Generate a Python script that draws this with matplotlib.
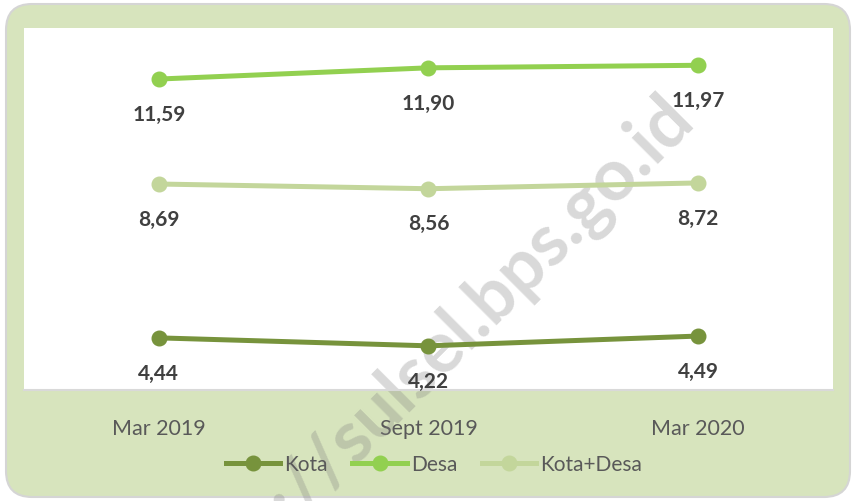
import matplotlib
matplotlib.use("Agg")
import matplotlib.pyplot as plt
from matplotlib.patches import FancyBboxPatch
from matplotlib.transforms import IdentityTransform
from matplotlib.lines import Line2D

categories = ["Mar 2019", "Sept 2019", "Mar 2020"]
kota = [4.44, 4.22, 4.49]
desa = [11.59, 11.90, 11.97]
kota_desa = [8.69, 8.56, 8.72]
series_names = ["Kota", "Desa", "Kota+Desa"]
colors = ["#77933c", "#92d050", "#c3d69b"]

W, H, DPI = 854, 502, 100
fig = plt.figure(figsize=(W / DPI, H / DPI), dpi=DPI)
fig.patch.set_facecolor("white")

frame = FancyBboxPatch((6, 4), 844, 493, boxstyle="round,pad=0,rounding_size=26",
                       transform=IdentityTransform(), facecolor="#d7e4bd",
                       edgecolor="#d5d5d5", linewidth=1.5, zorder=-5)
fig.patches.append(frame)

ax = fig.add_axes([24 / W, (H - 391) / H, 809 / W, 362 / H])
ax.set_facecolor("white")
for s in ax.spines.values():
    s.set_visible(False)
ax.spines["bottom"].set_visible(True)
ax.spines["bottom"].set_color("#d9d9d9")
ax.spines["bottom"].set_linewidth(1.5)

x = list(range(len(categories)))
data = [kota, desa, kota_desa]
for vals, name, c in zip(data, series_names, colors):
    ax.plot(x, vals, color=c, lw=3.6, marker="o", ms=10.5, label=name, zorder=3,
            solid_capstyle="round")
    for xi, v in zip(x, vals):
        ax.annotate(f"{v:.2f}".replace(".", ","), (xi, v), xytext=(0, -25),
                    textcoords="offset points", ha="center", va="center",
                    fontsize=15, fontweight="bold", color="#404040",
                    family="Lato", zorder=4)

ax.set_xlim(-0.5, 2.5)
ax.set_ylim(3, 13)
ax.set_yticks([])
ax.set_xticks(x)
ax.set_xticklabels(categories, family="Lato", fontsize=15.5, color="#595959")
ax.tick_params(axis="x", length=0, pad=20)

handles = [Line2D([0], [0], color=c, lw=3.6, marker="o", ms=10.5) for c in colors]
leg = fig.legend(handles, series_names, loc="center", bbox_to_anchor=(434 / W, (H - 465) / H),
                 ncol=3, frameon=False, handlelength=2.6, handletextpad=0.2,
                 columnspacing=1.2, prop={"family": "Lato", "size": 15})
for t in leg.get_texts():
    t.set_color("#595959")

ax.text(696 / W, (H - 121) / H, "https://sulsel.bps.go.id", transform=fig.transFigure,
        rotation=45, rotation_mode="anchor", ha="right", va="baseline",
        fontsize=52, fontweight="bold", family="Lato", color="#808080", alpha=0.3,
        zorder=2, clip_on=False)

fig.savefig("out.png", dpi=DPI)
